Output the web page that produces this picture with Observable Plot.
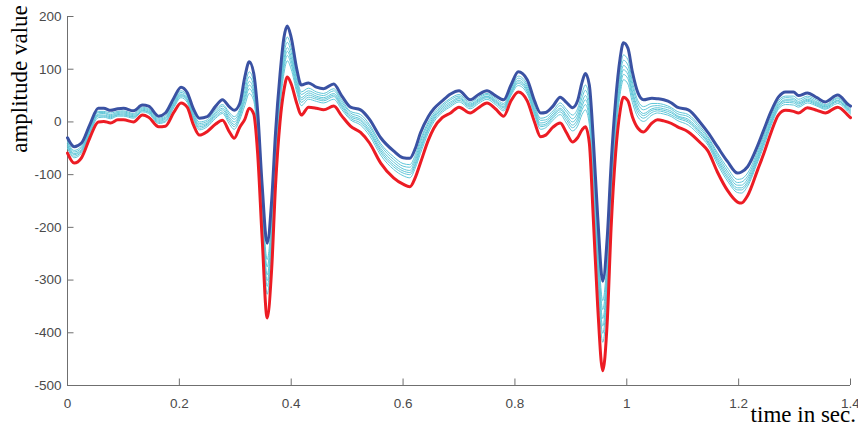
<!DOCTYPE html>
<html>
<head>
<meta charset="utf-8">
<script src="https://cdn.jsdelivr.net/npm/d3@7"></script>
<script src="https://cdn.jsdelivr.net/npm/@observablehq/plot@0.6"></script>
<style>
  html, body { margin: 0; padding: 0; background: #fff; }
  #chart { width: 858px; height: 430px; overflow: hidden; }
</style>
</head>
<body>
<div id="chart"></div>
<script>
const time = [
  0,0.012,0.025,0.040,0.055,0.065,0.077,0.090,0.100,0.118,
  0.134,0.145,0.163,0.175,0.190,0.203,0.214,0.225,0.236,0.250,
  0.265,0.277,0.290,0.298,0.308,0.317,0.325,0.333,0.340,0.348,
  0.357,0.365,0.372,0.380,0.387,0.393,0.400,0.410,0.418,0.431,
  0.445,0.458,0.476,0.490,0.506,0.524,0.540,0.560,0.583,0.600,
  0.612,0.622,0.631,0.645,0.655,0.670,0.685,0.700,0.720,0.735,
  0.750,0.765,0.780,0.793,0.806,0.822,0.835,0.846,0.855,0.868,
  0.881,0.892,0.903,0.912,0.920,0.926,0.933,0.940,0.948,0.957,
  0.965,0.972,0.980,0.988,0.994,1.002,1.010,1.020,1.030,1.045,
  1.055,1.066,1.080,1.090,1.110,1.132,1.145,1.162,1.180,1.198,
  1.205,1.216,1.234,1.245,1.258,1.271,1.284,1.298,1.307,1.323,
  1.340,1.355,1.377,1.397,1.400
];

const upperSeries = [
  -30,-47,-40,-5,26,26,22,25,26,21,
  32,30,11,17,45,66,56,25,7,10,
  30,42,28,22,35,85,114,92,20,-120,
  -230,-150,-20,90,160,182,160,100,70,74,
  66,63,72,50,28,23,5,-30,-55,-68,
  -69,-50,-21,10,25,40,53,59,42,52,
  59,50,42,70,95,80,40,17,18,30,
  47,37,27,40,75,92,70,-30,-180,-302,
  -220,-80,40,120,150,140,95,55,42,45,
  44,42,36,28,23,-2,-20,-47,-75,-97,
  -95,-85,-45,-15,20,47,57,57,50,55,
  46,38,51,32,30
];

const lowerSeries = [
  -59,-78,-68,-30,0,1,-2,4,4,0,
  13,9,-9,-8,18,36,28,-5,-25,-18,
  -4,3,-20,-31,-10,5,26,15,-60,-220,
  -372,-280,-120,0,60,85,72,35,13,28,
  26,23,30,12,-8,-20,-40,-78,-106,-118,
  -123,-105,-78,-35,-12,8,17,28,17,27,
  36,25,11,40,57,40,0,-28,-25,-10,
  -2,-20,-38,-30,-15,-9,-40,-180,-350,-472,
  -380,-200,-60,20,47,40,10,-12,-19,-2,
  4,2,-3,-9,-19,-40,-55,-95,-130,-152,
  -154,-140,-91,-60,-20,13,22,20,17,27,
  22,17,28,11,8
];

const middle1 = [
  -36,-54,-46,-10,20,20,17,20,21,16,
  28,25,7,12,39,59,50,18,0,4,
  23,33,17,10,25,67,95,75,2,-142,
  -261,-179,-42,70,138,161,141,86,57,64,
  57,54,63,42,20,14,-5,-41,-66,-79,
  -81,-62,-34,0,17,33,45,52,37,47,
  54,45,35,63,87,71,31,7,9,21,
  36,24,13,25,55,70,46,-63,-217,-339,
  -255,-106,18,98,127,118,76,40,29,35,
  35,33,27,20,14,-10,-28,-58,-87,-109,
  -108,-97,-55,-25,11,40,49,49,43,49,
  41,33,46,27,25
];

const middle2 = [
  -39,-57,-49,-13,18,18,14,18,19,14,
  26,23,5,9,36,56,47,15,-3,1,
  19,30,13,5,21,59,86,67,-6,-152,
  -275,-192,-52,61,128,151,132,79,52,59,
  53,50,59,38,17,9,-9,-45,-71,-84,
  -86,-68,-39,-4,13,30,42,49,34,44,
  52,42,32,60,83,67,27,3,4,17,
  31,19,6,18,46,60,35,-78,-234,-356,
  -271,-118,8,88,117,108,68,34,23,30,
  31,29,24,16,10,-14,-31,-62,-93,-115,
  -114,-103,-60,-29,7,36,46,45,39,46,
  38,31,44,25,23
];

const middle3 = [
  -42,-60,-52,-15,15,16,12,16,17,12,
  24,21,3,7,34,53,44,12,-6,-2,
  16,26,8,0,16,51,77,60,-14,-162,
  -290,-205,-62,52,118,141,123,73,46,55,
  49,46,54,34,13,5,-14,-50,-76,-89,
  -92,-73,-45,-9,10,27,38,46,32,42,
  49,40,29,57,79,63,23,-2,0,13,
  26,13,0,11,37,50,24,-93,-251,-373,
  -287,-130,-2,78,107,98,59,27,16,25,
  27,25,20,12,5,-18,-35,-67,-98,-120,
  -120,-108,-64,-34,3,33,42,42,36,43,
  36,29,41,23,21
];

const middle4 = [
  -45,-62,-54,-17,13,13,10,14,15,10,
  22,19,1,5,32,51,42,10,-9,-4,
  13,23,4,-5,13,45,70,54,-20,-170,
  -301,-215,-70,45,110,134,116,68,42,51,
  46,43,51,31,10,2,-18,-54,-81,-93,
  -96,-78,-50,-13,7,24,35,44,30,40,
  48,38,27,55,76,60,20,-6,-4,10,
  23,9,-6,5,30,42,15,-105,-265,-387,
  -300,-140,-10,70,99,90,53,22,12,22,
  24,22,17,10,2,-21,-38,-71,-103,-125,
  -125,-113,-68,-38,0,30,40,39,34,41,
  34,28,40,22,19
];

const middle5 = [
  -47,-65,-56,-19,11,11,8,13,13,9,
  21,18,-1,2,29,49,40,8,-12,-6,
  10,19,0,-9,9,39,63,47,-26,-178,
  -312,-225,-78,38,102,126,109,62,37,47,
  43,40,48,28,7,-2,-21,-58,-85,-97,
  -100,-82,-54,-16,4,21,32,41,28,38,
  46,36,24,53,73,57,17,-9,-7,7,
  19,4,-11,-1,23,33,6,-117,-279,-401,
  -313,-150,-18,62,90,82,46,16,7,18,
  21,19,13,7,-1,-24,-40,-75,-107,-129,
  -129,-117,-72,-41,-3,27,37,36,31,39,
  32,26,38,20,17
];

const middle6 = [
  -50,-68,-59,-22,8,9,6,11,11,7,
  19,16,-3,0,27,46,37,5,-15,-9,
  7,16,-5,-14,4,31,54,40,-34,-188,
  -327,-238,-88,29,92,116,100,56,31,43,
  39,36,43,24,4,-6,-26,-63,-90,-102,
  -106,-87,-60,-21,0,18,29,38,25,35,
  43,33,21,50,69,53,13,-14,-11,3,
  14,-2,-17,-8,14,23,-5,-132,-296,-418,
  -329,-162,-28,52,80,72,37,9,1,13,
  17,15,10,3,-6,-28,-44,-80,-112,-134,
  -135,-122,-76,-46,-7,24,33,32,28,36,
  30,24,35,18,15
];

const xTicks = [0, 0.2, 0.4, 0.6, 0.8, 1, 1.2, 1.4];
const yTicks = [200, 100, 0, -100, -200, -300, -400, -500];
const xLabel = "time in sec.";
const yLabel = "amplitude value";

function rows(name, values) {
  return time.map((t, i) => ({t, v: values[i], s: name}));
}
const middleRows = [middle1, middle2, middle3, middle4, middle5, middle6]
  .flatMap((vals, k) => rows("m" + (k + 1), vals));
const upperRows = rows("upper", upperSeries);
const lowerRows = rows("lower", lowerSeries);

const W = 858, H = 430, ML = 67, MR = 8, MT = 16, MB = 45;
const frameW = W - ML - MR, frameH = H - MT - MB;
const axisGray = "#6f6f6f";

const svg = Plot.plot({
  width: W,
  height: H,
  marginLeft: ML,
  marginRight: MR,
  marginTop: MT,
  marginBottom: MB,
  style: {fontFamily: "Liberation Sans, Arial, sans-serif", fontSize: "13.5px", color: "#4a4a4a", background: "#fff"},
  x: {domain: [0, 1.4], label: null},
  y: {domain: [-500, 200], label: null},
  marks: [
    Plot.ruleX(xTicks, {x: d => d, insetTop: frameH - 6.5, stroke: axisGray, strokeWidth: 1}),
    Plot.ruleY(yTicks, {y: d => d, insetRight: frameW - 6.5, stroke: axisGray, strokeWidth: 1}),
    Plot.ruleY([-500], {stroke: axisGray, strokeWidth: 1}),
    Plot.ruleX([0], {stroke: axisGray, strokeWidth: 1}),
    Plot.axisX({ticks: xTicks, tickSize: 0, tickPadding: 13, tickFormat: d => String(d), label: null}),
    Plot.axisY({ticks: yTicks, tickSize: 0, tickPadding: 6, tickFormat: d => String(d), label: null}),
    Plot.line(middleRows, {x: "t", y: "v", z: "s", stroke: "#5fc6d8", strokeWidth: 1, curve: "monotone-x"}),
    Plot.line(upperRows, {x: "t", y: "v", stroke: "#3a52a3", strokeWidth: 3, curve: "monotone-x"}),
    Plot.line(lowerRows, {x: "t", y: "v", stroke: "#ec1c24", strokeWidth: 3, curve: "monotone-x"})
  ]
});

const s = d3.select(svg);
s.append("text")
  .attr("x", 856).attr("y", 422)
  .attr("text-anchor", "end")
  .attr("font-family", "Liberation Serif, Times New Roman, serif")
  .attr("font-size", 23)
  .attr("fill", "#000")
  .text(xLabel);
s.append("text")
  .attr("transform", "translate(26.5,79) rotate(-90)")
  .attr("text-anchor", "middle")
  .attr("font-family", "Liberation Serif, Times New Roman, serif")
  .attr("font-size", 23)
  .attr("fill", "#000")
  .text(yLabel);

document.getElementById("chart").appendChild(svg);
</script>
</body>
</html>
